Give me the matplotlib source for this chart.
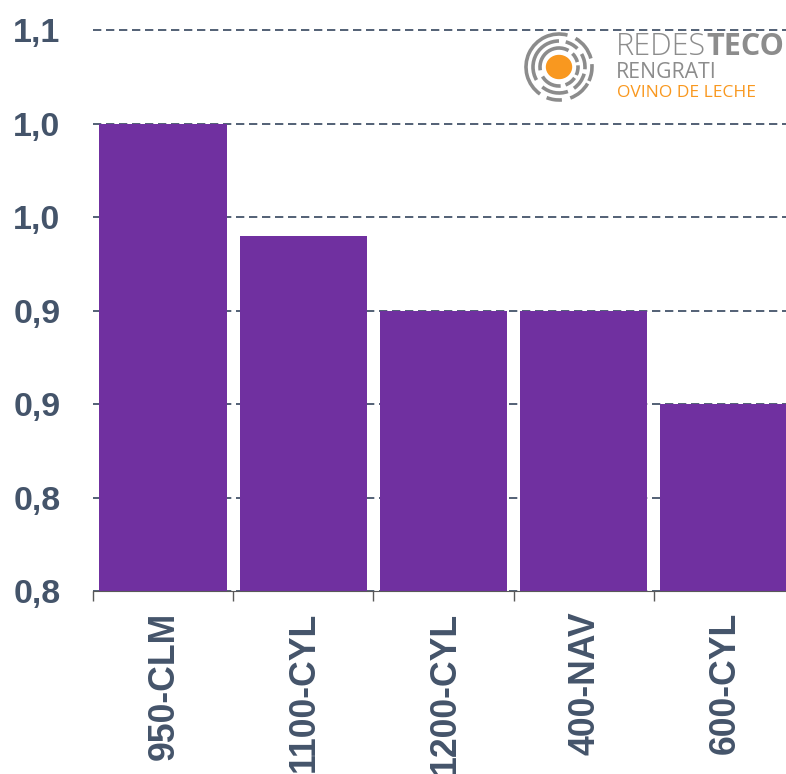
import matplotlib
matplotlib.use('Agg')
import matplotlib.pyplot as plt
from matplotlib.patches import Arc, Ellipse

categories = ['950-CLM', '1100-CYL', '1200-CYL', '400-NAV', '600-CYL']
values = [1.05, 0.99, 0.95, 0.95, 0.90]
y_ticks = [0.80, 0.85, 0.90, 0.95, 1.00, 1.05, 1.10]
y_labels = ['0,8', '0,8', '0,9', '0,9', '1,0', '1,0', '1,1']

# logo rings: radius, start angle, end angle (degrees, clockwise from east on screen)
logo_rings = [
    (33, 125, 285), (33, 300, 345), (33, 355, 385), (33, 30, 70), (33, 85, 112),
    (26, 150, 270), (26, 285, 315), (26, 330, 365), (26, 15, 55), (26, 70, 130),
    (19, 170, 300), (19, 315, 345), (19, 355, 385), (19, 35, 70), (19, 85, 150),
]

DARK = '#44546A'
PURPLE = '#7030A0'
GREY = '#8C8C8C'
ORANGE = '#F9981F'

plt.rcParams['font.family'] = ['Liberation Sans', 'DejaVu Sans']

fig = plt.figure(figsize=(7.86, 7.74), dpi=100)
W, H = 786, 774

# plot area runs past the right edge of the picture, last bar gets cut off
ax = fig.add_axes([93 / W, 1 - 591 / H, 701 / W, 560.5 / H])
ax.bar(range(len(values)), values, width=0.908, color=PURPLE, zorder=2)
ax.set_xlim(-0.5, 4.5)
ax.set_ylim(0.80, 1.10)

ax.set_yticks(y_ticks)
ax.set_yticklabels(y_labels, fontsize=24.5, fontweight='bold', color=DARK,
                   va='center_baseline')
ax.tick_params(axis='y', length=0, pad=23.5)
ax.yaxis.grid(True, color=DARK, linewidth=1.3, linestyle=(0, (4.6, 2.6)), zorder=1)
ax.set_axisbelow(True)
# the top line sits right on the axes edge
for line in ax.get_ygridlines():
    line.set_clip_on(False)

ax.set_xticks([i - 0.5 for i in range(len(values) + 1)])
ax.set_xticklabels([])
ax.tick_params(axis='x', length=7, width=1, color='#595959')
for name, spine in ax.spines.items():
    spine.set_visible(name == 'bottom')
ax.spines['bottom'].set_color('#595959')

# category labels are hung from the top, long ones run off the bottom
for i, cat in enumerate(categories):
    ax.annotate(cat, xy=(i, 0), xycoords=('data', 'axes fraction'),
                xytext=(1, -15), textcoords='offset points',
                rotation=90, ha='center', va='top', fontsize=25.7,
                fontweight='bold', color=DARK, annotation_clip=False)

# logo, drawn in pixel coordinates
logo = fig.add_axes([0, 0, 1, 1], facecolor='none')
logo.set_xlim(0, W)
logo.set_ylim(H, 0)
logo.axis('off')
cx, cy = 559, 67
for r, a0, a1 in logo_rings:
    logo.add_patch(Arc((cx, cy), 2 * r, 2 * r, theta1=a0, theta2=a1,
                       color=GREY, linewidth=2.6))
logo.add_patch(Ellipse((cx, cy), 25, 23, color=ORANGE))

t1 = logo.text(616, 47, 'REDES', fontsize=22, color=GREY, ha='left', va='center',
               family=['Open Sans', 'DejaVu Sans'], fontweight='light')
logo.annotate('TECO', xycoords=t1, xy=(1, 0.5), va='center', ha='left', fontsize=22,
              color=GREY, fontweight='bold', family=['Open Sans', 'DejaVu Sans'],
              annotation_clip=False)
logo.text(616, 73, 'RENGRATI', fontsize=15.3, color=GREY, ha='left', va='center',
          family=['Open Sans', 'DejaVu Sans'])
logo.text(617, 93, 'OVINO DE LECHE', fontsize=12.5, color=ORANGE, ha='left', va='center',
          family=['Open Sans', 'DejaVu Sans'])

fig.savefig('out.png', dpi=100)
